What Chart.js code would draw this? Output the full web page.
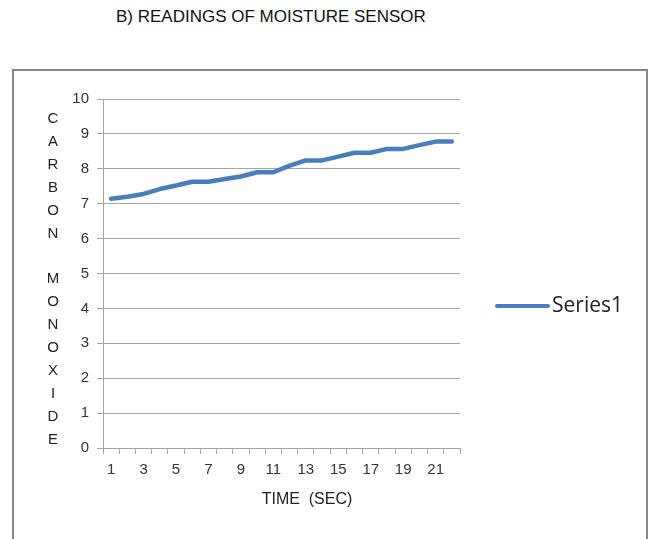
<!DOCTYPE html>
<html>
<head>
<meta charset="utf-8">
<script src="https://cdn.jsdelivr.net/npm/chart.js@4/dist/chart.umd.min.js"></script>
<style>
  body { margin: 0; background: #fff; }
  #title {
    position: absolute; left: 116px; top: 7px;
    font: 17px "Liberation Sans", Arial, sans-serif; color: #111;
  }
  #box {
    position: absolute; left: 12px; top: 69px; width: 636px; height: 490px;
    border: 2px solid #888; box-sizing: border-box;
  }
  #wrap { position: absolute; left: 0; top: 0; width: 654px; height: 539px; }
</style>
</head>
<body>
<div id="title">B) READINGS OF MOISTURE SENSOR</div>
<div id="box"></div>
<div id="wrap"><canvas id="chart" width="654" height="539"></canvas></div>
<script>
const timeLabels = ['1','2','3','4','5','6','7','8','9','10','11','12','13','14','15','16','17','18','19','20','21','22'];
const series1 = [7.14, 7.2, 7.28, 7.42, 7.52, 7.63, 7.63, 7.71, 7.78, 7.9, 7.9, 8.09,
                 8.24, 8.24, 8.35, 8.46, 8.46, 8.57, 8.57, 8.68, 8.78, 8.78];
const yTitle = 'CARBON MONOXIDE';
const xTitle = 'TIME  (SEC)';

const gridColor = '#a6a6a6';
const font = 'Liberation Sans';

// axis captions + legend, drawn around the chart area
const extras = {
  id: 'extras',
  afterDraw(chart) {
    const { ctx, chartArea } = chart;
    ctx.save();
    ctx.fillStyle = '#222';
    ctx.font = '15px "' + font + '"';
    ctx.textAlign = 'center';
    ctx.textBaseline = 'middle';
    // stacked letters, the space gives an empty line
    const letters = yTitle.split('');
    const step = 22.9;
    letters.forEach((ch, i) => {
      ctx.fillText(ch, chartArea.left - 50, chartArea.top + 20 + i * step);
    });
    ctx.font = '16px "' + font + '"';
    ctx.fillText(xTitle, chartArea.left + 204, chartArea.bottom + 52);

    // legend
    const ds = chart.data.datasets[0];
    const ly = chartArea.top + 207;
    const lx = chartArea.right + 37;
    ctx.strokeStyle = ds.borderColor;
    ctx.lineWidth = 4;
    ctx.lineCap = 'round';
    ctx.beginPath();
    ctx.moveTo(lx, ly);
    ctx.lineTo(lx + 51, ly);
    ctx.stroke();
    ctx.fillStyle = '#222';
    ctx.font = '21px "Open Sans"';
    ctx.textAlign = 'left';
    ctx.fillText(ds.label, lx + 55, ly);
    ctx.restore();
  }
};

new Chart(document.getElementById('chart'), {
  type: 'line',
  data: {
    labels: timeLabels,
    datasets: [{
      label: 'Series1',
      data: series1,
      borderColor: '#4a7ebb',
      borderWidth: 4.5,
      borderCapStyle: 'round',
      borderJoinStyle: 'round',
      pointRadius: 0,
      tension: 0
    }]
  },
  options: {
    responsive: false,
    animation: false,
    layout: { padding: { left: 63, right: 194, top: 99, bottom: 51 } },
    plugins: { legend: { display: false }, tooltip: { enabled: false } },
    scales: {
      x: {
        offset: true,
        afterFit(scale) { scale.height = 40; },
        grid: { offset: true, drawOnChartArea: false, color: gridColor, tickLength: 6 },
        border: { color: gridColor },
        ticks: {
          autoSkip: false, maxRotation: 0, padding: 7,
          color: '#333', font: { family: font, size: 15 },
          callback(value, index) { return index % 2 === 0 ? this.getLabelForValue(value) : ''; }
        }
      },
      y: {
        min: 0, max: 10,
        afterFit(scale) { scale.width = 40; },
        grid: { color: gridColor, tickLength: 6 },
        border: { color: gridColor },
        ticks: { stepSize: 1, padding: 8, color: '#333', font: { family: font, size: 15 } }
      }
    }
  },
  plugins: [extras]
});
</script>
</body>
</html>
